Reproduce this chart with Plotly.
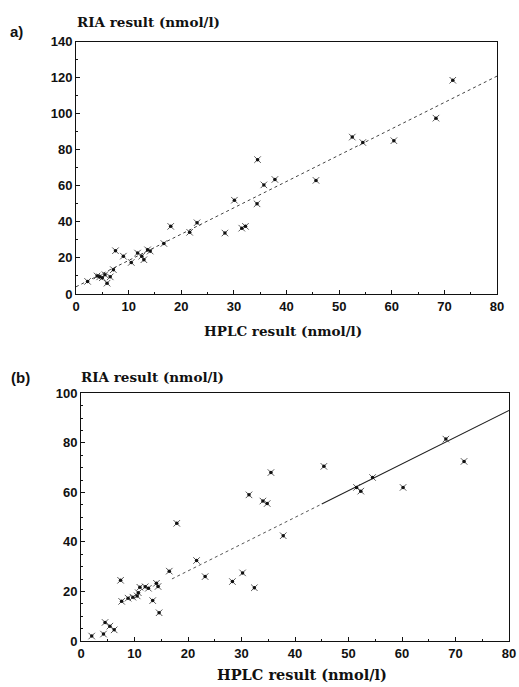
import plotly.graph_objects as go

# Panel a) : HPLC vs RIA, first assay series
hplc_a = [2.2, 4.0, 4.5, 5.0, 5.5, 5.9, 6.5, 7.1, 7.5, 9.0, 10.5, 11.7, 12.5, 12.9,
          13.6, 14.1, 16.7, 18.0, 21.6, 23.0, 28.3, 30.1, 31.5, 32.2, 34.4, 34.5,
          35.7, 37.8, 45.6, 52.5, 54.5, 60.4, 68.4, 71.6]
ria_a = [7.0, 10.0, 9.5, 9.0, 10.7, 6.0, 9.5, 13.5, 24.0, 21.0, 17.5, 22.7, 21.0, 19.0,
         24.5, 23.8, 28.0, 37.5, 34.2, 39.5, 33.8, 52.0, 36.5, 37.5, 50.0, 74.5,
         60.5, 63.5, 63.0, 87.0, 84.0, 85.0, 97.5, 118.5]
fit_a = {"intercept": 4.0, "slope": 1.46, "x_from": 0.0, "x_to": 80.0}

# Panel (b) : HPLC vs RIA, second assay series
hplc_b = [2.0, 4.2, 4.5, 5.4, 6.2, 7.4, 7.6, 8.8, 9.7, 10.5, 10.7, 11.0, 12.0, 12.6,
          13.4, 14.1, 14.4, 14.6, 16.5, 17.9, 21.6, 23.2, 28.3, 30.2, 31.4, 32.4,
          34.0, 34.8, 35.5, 37.8, 45.4, 51.5, 52.3, 54.5, 60.2, 68.2, 71.6]
ria_b = [2.0, 2.8, 7.5, 6.0, 4.5, 24.5, 16.0, 17.3, 17.7, 18.2, 19.5, 21.7, 21.9, 21.3,
         16.3, 23.3, 22.0, 11.4, 28.2, 47.5, 32.5, 26.0, 24.0, 27.5, 59.0, 21.5,
         56.5, 55.5, 68.0, 42.5, 70.5, 62.0, 60.5, 66.0, 62.0, 81.5, 72.5]
fit_b = {"intercept": 6.7, "slope": 1.08, "x_from": 17.0, "x_mid": 45.0, "x_to": 80.0}

x_ticks = [0, 10, 20, 30, 40, 50, 60, 70, 80]
y_ticks_a = [0, 20, 40, 60, 80, 100, 120, 140]
y_ticks_b = [0, 20, 40, 60, 80, 100]

W, H = 519, 687
ink = "#111111"

fig = go.Figure()


def add_points(xs, ys, xa, ya):
    fig.add_trace(go.Scatter(
        x=xs, y=ys, mode="markers", xaxis=xa, yaxis=ya, showlegend=False,
        marker=dict(symbol="x-thin", size=6.5, color="#444444",
                    line=dict(width=0.9, color="#444444")),
        cliponaxis=False))
    fig.add_trace(go.Scatter(
        x=xs, y=ys, mode="markers", xaxis=xa, yaxis=ya, showlegend=False,
        marker=dict(symbol="circle", size=3.5, color=ink), cliponaxis=False))


def fit_line(fit, x0, x1):
    return [x0, x1], [fit["intercept"] + fit["slope"] * x0, fit["intercept"] + fit["slope"] * x1]


# regression line, panel a
lx, ly = fit_line(fit_a, fit_a["x_from"], fit_a["x_to"])
fig.add_trace(go.Scatter(x=lx, y=ly, mode="lines", xaxis="x", yaxis="y", showlegend=False,
                         line=dict(color="#444444", width=1.0, dash="dot")))
add_points(hplc_a, ria_a, "x", "y")

# regression line, panel b (fainter on the lower part)
lx, ly = fit_line(fit_b, fit_b["x_from"], fit_b["x_mid"])
fig.add_trace(go.Scatter(x=lx, y=ly, mode="lines", xaxis="x2", yaxis="y2", showlegend=False,
                         line=dict(color="#555555", width=1.0, dash="dot")))
lx, ly = fit_line(fit_b, fit_b["x_mid"], fit_b["x_to"])
fig.add_trace(go.Scatter(x=lx, y=ly, mode="lines", xaxis="x2", yaxis="y2", showlegend=False,
                         line=dict(color="#222222", width=1.1)))
add_points(hplc_b, ria_b, "x2", "y2")

tickfont = dict(family="Liberation Sans", size=13, color=ink, weight="bold")
axis_common = dict(showgrid=False, zeroline=False, showline=True, linecolor=ink, linewidth=1,
                   mirror=True, ticks="inside", ticklen=4, tickcolor=ink, tickfont=tickfont,
                   automargin=False)

fig.update_layout(
    template="none",
    width=W, height=H, margin=dict(l=0, r=0, t=0, b=0, pad=0), autosize=False,
    paper_bgcolor="white", plot_bgcolor="white",
    xaxis=dict(domain=[76 / W, 497 / W], anchor="y", range=[0, 80], tickvals=x_ticks,
               minor=dict(ticks="inside", ticklen=2, dtick=5, tickcolor=ink), **axis_common),
    yaxis=dict(domain=[1 - 294 / H, 1 - 41.5 / H], anchor="x", range=[0, 140], tickvals=y_ticks_a,
               minor=dict(ticks="inside", ticklen=2, dtick=10, tickcolor=ink), **axis_common),
    xaxis2=dict(domain=[81 / W, 509 / W], anchor="y2", range=[0, 80], tickvals=x_ticks,
                minor=dict(ticks="inside", ticklen=2, dtick=5, tickcolor=ink), **axis_common),
    yaxis2=dict(domain=[1 - 641 / H, 1 - 393.3 / H], anchor="x2", range=[0, 100], tickvals=y_ticks_b,
                minor=dict(ticks="inside", ticklen=2, dtick=5, tickcolor=ink), **axis_common),
)


def serif(size):
    return dict(family="DejaVu Serif", size=size, color=ink, weight="bold")


panel_font = dict(family="Liberation Sans", size=15, color=ink, weight="bold")


def px_label(text, x, y, font, xanchor="center"):
    fig.add_annotation(text=text, x=x / W, y=1 - y / H, xref="paper", yref="paper",
                       showarrow=False, font=font, xanchor=xanchor, yanchor="middle")


px_label("a)", 8, 31, panel_font, "left")
px_label("RIA result (nmol/l)", 148, 22, serif(13.5))
px_label("HPLC result (nmol/l)", 283, 331, serif(13.5))
px_label("(b)", 9, 377, panel_font, "left")
px_label("RIA result (nmol/l)", 152, 377, serif(13.5))
px_label("HPLC result (nmol/l)", 302, 674, serif(14.5))

fig.write_html("out.html")
